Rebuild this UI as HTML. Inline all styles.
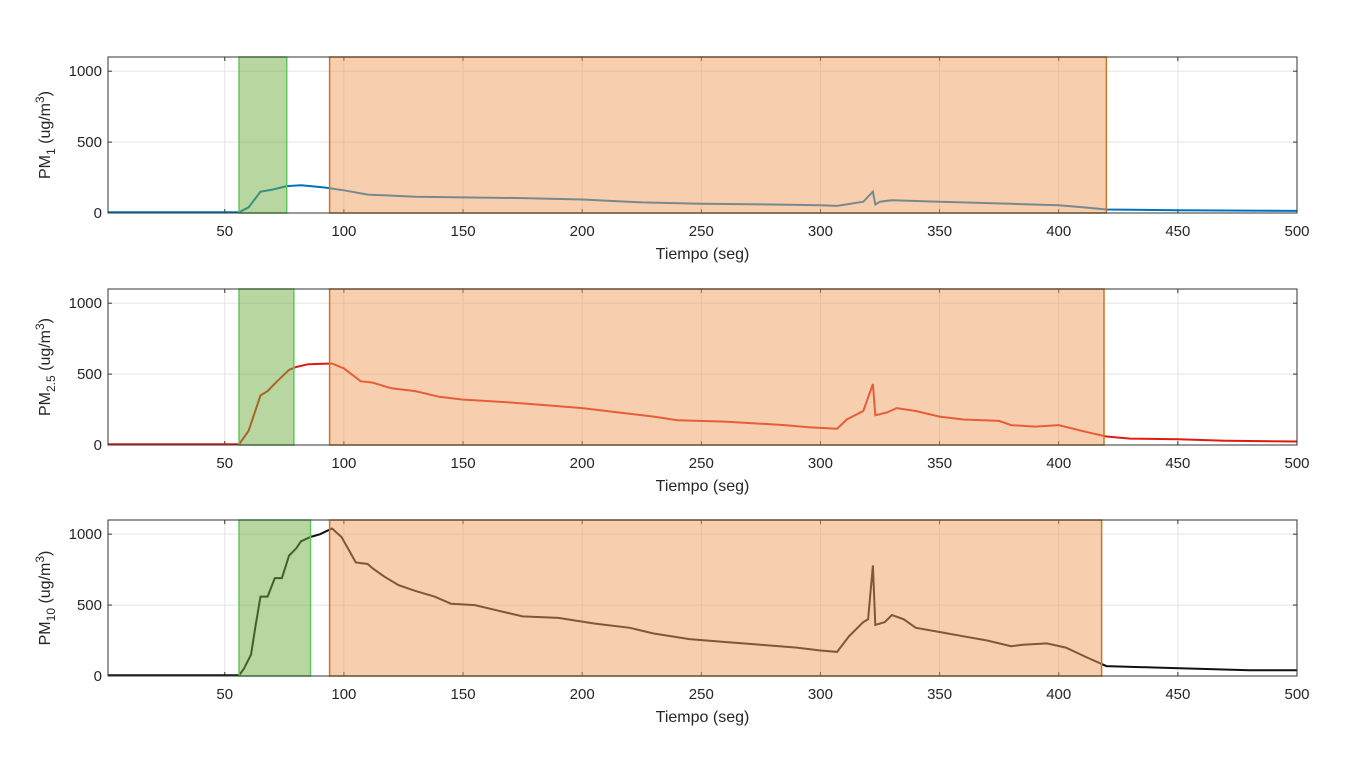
<!DOCTYPE html>
<html><head><meta charset="utf-8"><style>
body{margin:0;background:#fff;width:1346px;height:771px;overflow:hidden}
svg{display:block;font-family:"Liberation Sans",sans-serif}
</style></head><body>
<svg id="c" width="1346" height="771"></svg>
<script>
const xTicks=[50,100,150,200,250,300,350,400,450,500];
const yTicks=[0,500,1000];
const pm1T=[1,56,60,65,70,76,82,92,100,110,130,150,175,200,225,250,280,300,307,318,322,323,325,330,350,380,400,410,420,450,500];
const pm1V=[5,5,40,150,165,190,195,180,160,130,115,110,105,95,75,65,60,55,50,80,150,60,80,90,80,65,55,40,25,20,15];
const pm25T=[1,56,60,65,68,72,77,80,85,95,100,107,112,120,130,140,150,160,170,185,200,215,230,240,260,275,285,295,307,311,318,322,323,328,332,340,350,360,375,380,390,400,412,420,430,450,470,500];
const pm25V=[5,5,100,350,380,450,530,550,570,575,540,450,440,400,380,340,320,310,300,280,260,230,200,175,165,150,140,125,115,180,240,430,210,230,260,240,200,180,170,140,130,140,90,60,45,40,30,25];
const pm10T=[1,56,58,61,63,65,68,71,74,77,80,82,86,90,95,99,102,105,110,112,117,123,130,138,145,155,165,175,190,205,220,230,245,260,275,290,300,307,312,318,320,322,323,327,330,335,340,350,360,370,380,385,395,403,412,420,440,460,480,500];
const pm10V=[5,5,50,150,360,560,560,690,690,850,900,950,980,1000,1040,980,890,800,790,760,700,640,600,560,510,500,460,420,410,370,340,300,260,240,220,200,180,170,280,380,400,780,360,380,430,400,340,310,280,250,210,220,230,200,130,70,60,50,40,40];
const panels=[
 {top:57,t:pm1T,v:pm1V,col:"#0072BD",sub:"1",g:[56,76],o:[94,420],name:"pm1"},
 {top:289,t:pm25T,v:pm25V,col:"#E01A10",sub:"2.5",g:[56,79],o:[94,419],name:"pm25"},
 {top:520,t:pm10T,v:pm10V,col:"#111111",sub:"10",g:[56,86],o:[94,418],name:"pm10"}];
const L=108,R=1297,H=156,XMIN=1,XMAX=500,YMAX=1100;
const sx=v=>L+(v-XMIN)/(XMAX-XMIN)*(R-L);
const svg=document.getElementById('c');const NS="http://www.w3.org/2000/svg";
function mk(tag,a,p){const e=document.createElementNS(NS,tag);for(const k in a)e.setAttribute(k,a[k]);(p||svg).appendChild(e);return e;}
panels.forEach(p=>{
 const sy=v=>p.top+H-v/YMAX*H;
 const g=mk('g',{});
 
 
 mk('rect',{x:L,y:p.top,width:R-L,height:H,fill:'#fff'},g);
 xTicks.forEach(t=>{const l=mk('line',{x1:sx(t),x2:sx(t),y1:p.top,y2:p.top+H,stroke:'#e3e3e3'},g);
  
  mk('line',{x1:sx(t),x2:sx(t),y1:p.top+H,y2:p.top+H-4,stroke:'#333'},g);
  mk('line',{x1:sx(t),x2:sx(t),y1:p.top,y2:p.top+4,stroke:'#333'},g);
  const tx=mk('text',{x:sx(t),y:p.top+H+23,'text-anchor':'middle','font-size':15,fill:'#262626'},g);tx.textContent=t;
  });
 yTicks.forEach(t=>{const y=sy(t);mk('line',{x1:L,x2:R,y1:y,y2:y,stroke:'#e3e3e3'},g);
  mk('line',{x1:L,x2:L+4,y1:y,y2:y,stroke:'#333'},g);mk('line',{x1:R,x2:R-4,y1:y,y2:y,stroke:'#333'},g);
  const tx=mk('text',{x:L-6,y:y+5,'text-anchor':'end','font-size':15,fill:'#262626'},g);tx.textContent=t;
  });
 const d=p.t.map((t,i)=>(i?'L':'M')+sx(t).toFixed(1)+','+sy(p.v[i]).toFixed(1)).join('');
 const ln=mk('path',{d:d,fill:'none',stroke:p.col,'stroke-width':2},g);
 
 const gr=mk('rect',{x:sx(p.g[0]),y:p.top,width:sx(p.g[1])-sx(p.g[0]),height:H,fill:'#6FAD41','fill-opacity':0.5,stroke:'#5cc85c','stroke-width':1.5},g);
 
 const or=mk('rect',{x:sx(p.o[0]),y:p.top,width:sx(p.o[1])-sx(p.o[0]),height:H,fill:'#EF9F5F','fill-opacity':0.5,stroke:'#C8782A','stroke-width':1.5},g);
 
 mk('rect',{x:L,y:p.top,width:R-L,height:H,fill:'none',stroke:'#333','stroke-width':1},g);
 const xl=mk('text',{x:(L+R)/2,y:p.top+H+46,'text-anchor':'middle','font-size':16,fill:'#262626'},g);xl.textContent='Tiempo (seg)';
 
 const cy=p.top+H/2;
 const yl=mk('text',{x:0,y:0,transform:`translate(50,${cy}) rotate(-90)`,'text-anchor':'middle','font-size':16,fill:'#262626'},g);
 
 yl.innerHTML=`PM<tspan font-size="12" dy="5">${p.sub}</tspan><tspan dy="-5"> (ug/m</tspan><tspan font-size="12" dy="-6">3</tspan><tspan dy="6">)</tspan>`;
});
</script>
</body></html>
